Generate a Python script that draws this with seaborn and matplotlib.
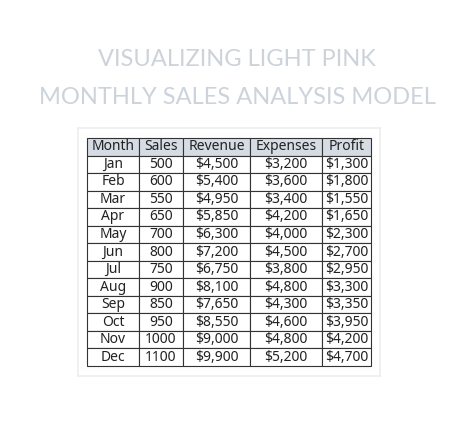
import matplotlib
matplotlib.use("Agg")
import matplotlib.pyplot as plt
import seaborn as sns
import pandas as pd

months = ["Jan", "Feb", "Mar", "Apr", "May", "Jun", "Jul", "Aug", "Sep", "Oct", "Nov", "Dec"]
sales = [500, 600, 550, 650, 700, 800, 750, 900, 850, 950, 1000, 1100]
revenue = [4500, 5400, 4950, 5850, 6300, 7200, 6750, 8100, 7650, 8550, 9000, 9900]
expenses = [3200, 3600, 3400, 4200, 4000, 4500, 3800, 4800, 4300, 4600, 4800, 5200]
profit = [1300, 1800, 1550, 1650, 2300, 2700, 2950, 3300, 3350, 3950, 4200, 4700]

sns.set_theme(style="white")
plt.rcParams["font.family"] = ["Noto Sans", "DejaVu Sans"]

df = pd.DataFrame({
    "Month": months,
    "Sales": [str(s) for s in sales],
    "Revenue": [f"${v:,}" for v in revenue],
    "Expenses": [f"${v:,}" for v in expenses],
    "Profit": [f"${v:,}" for v in profit],
})

W, H = 474, 425
fig = plt.figure(figsize=(W / 100, H / 100), dpi=100)
fig.patch.set_facecolor("white")

fig.text(0.5, 1 - 60 / H, "VISUALIZING LIGHT PINK", ha="center", va="center",
         fontsize=17, color="#ccd3da", family=["Lato", "DejaVu Sans"])
fig.text(0.5, 1 - 97 / H, "MONTHLY SALES ANALYSIS MODEL", ha="center", va="center",
         fontsize=17, color="#ccd3da", family=["Lato", "DejaVu Sans"])

# card background
card = fig.add_axes([78 / W, 1 - 376 / H, 302 / W, 248 / H])
card.set_facecolor("white")
for s in card.spines.values():
    s.set_color("#eeeeee")
card.set_xticks([])
card.set_yticks([])

ax = fig.add_axes([87 / W, 1 - 366 / H, 284 / W, 228 / H])
ax.axis("off")
widths = [52, 44, 67, 72, 49]
tot = sum(widths)
tbl = ax.table(cellText=df.values, colLabels=df.columns, cellLoc="center",
               colWidths=[w / tot for w in widths], bbox=[0, 0, 1, 1])
tbl.auto_set_font_size(False)
for (r, c), cell in tbl.get_celld().items():
    cell.set_edgecolor("#333333")
    cell.set_linewidth(0.8)
    cell.get_text().set_fontsize(10)
    cell.get_text().set_color("#222222")
    if r == 0:
        cell.set_facecolor("#d6dce4")
        cell.get_text().set_fontweight("bold")
    else:
        cell.set_facecolor("white")

fig.savefig("out.png", dpi=100)
